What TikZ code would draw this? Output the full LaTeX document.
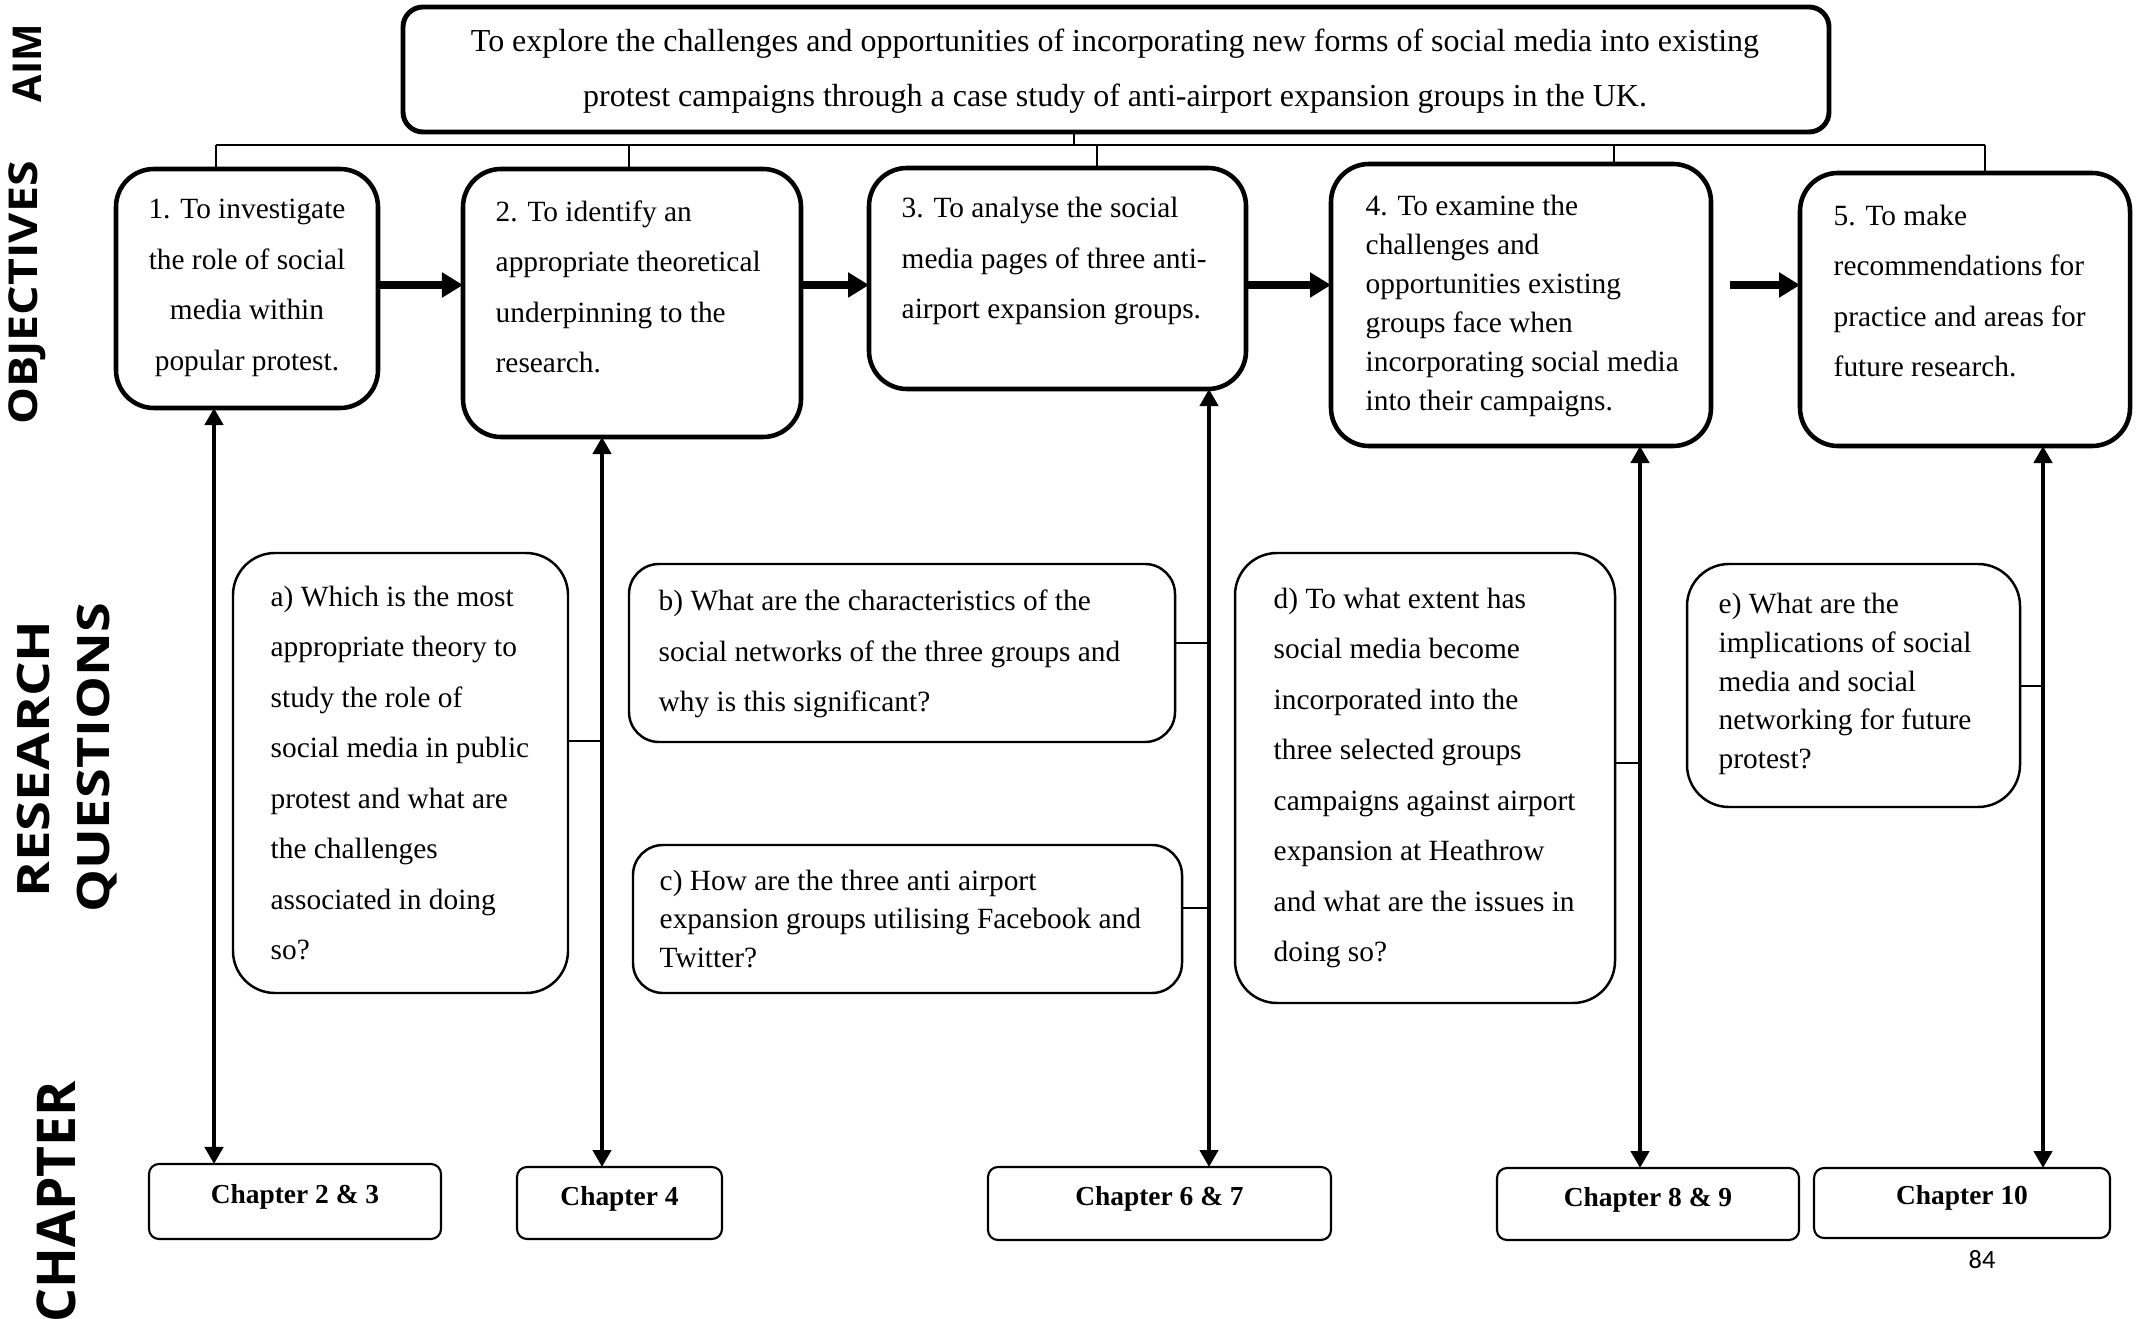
\documentclass[tikz,border=0pt]{standalone}
\usepackage{fontspec}
\setmainfont{Liberation Serif}
\newfontfamily\labfont{Open Sans}
\newfontfamily\pgnumfont{Carlito}
\usetikzlibrary{arrows.meta}
\begin{document}
\begin{tikzpicture}[x=0.01cm,y=-0.01cm,
 sz/.style 2 args={minimum width=#1*0.01cm, minimum height=#2*0.01cm, inner sep=0pt, outer sep=0pt},
 aimbox/.style={draw, line width=1.4pt, rounded corners=0.2cm},
 objbox/.style={draw, line width=1.3pt, rounded corners=0.38cm},
 rqbox/.style={draw, line width=0.7pt, rounded corners=0.42cm},
 rqsmall/.style={draw, line width=0.7pt, rounded corners=0.3cm},
 chapbox/.style={draw, line width=0.6pt, rounded corners=0.1cm},
 chaptext/.style={inner sep=0pt, font=\fontsize{7.8}{9}\selectfont\bfseries},
 body/.style={inner sep=0pt, align=left, font=\fontsize{8.35}{14.37}\selectfont},
 bodyc/.style={inner sep=0pt, align=center, font=\fontsize{8.35}{14.37}\selectfont},
 bodytight/.style={inner sep=0pt, align=left, font=\fontsize{8.35}{11.07}\selectfont},
 tree/.style={line width=0.45pt},
 bigarrow/.style={line width=0.08cm, -{Triangle[width=0.24cm,length=0.21cm]}},
 dblarrow/.style={line width=0.045cm, {Triangle[width=0.18cm,length=0.17cm]}-{Triangle[width=0.18cm,length=0.17cm]}},
 link/.style={line width=0.6pt},
 sidelab/.style={rotate=90, inner sep=0pt}
]
\useasboundingbox[fill=white] (0,0) rectangle (2140,1319);

% side labels
\node[sidelab, font=\labfont\bfseries\fontsize{11.3}{12}\selectfont] (lAim) at (27.5,63) {AIM};
\node[sidelab, font=\labfont\bfseries\fontsize{11.3}{12}\selectfont] (lObj) at (27.5,293) {\scalebox{1.17}[1]{OBJECTIVES}};
\node[sidelab, font=\labfont\bfseries\fontsize{12.7}{13}\selectfont] (lRes) at (34,759) {\scalebox{1.22}[1]{RESEARCH}};
\node[sidelab, font=\labfont\bfseries\fontsize{12.7}{13}\selectfont] (lQue) at (97,758) {\scalebox{1.21}[1]{QUESTIONS}};
\node[sidelab, font=\labfont\bfseries\fontsize{15.2}{16}\selectfont] (lCha) at (56,1202) {CHAPTER};

% aim
\node[aimbox, sz={1426}{125}] (aim) at (1116,69.5) {};
\node[bodyc, font=\fontsize{9.1}{15.7}\selectfont] (aimt) at (1115,71) {To explore the challenges and opportunities of incorporating new forms of social media into existing\\protest campaigns through a case study of anti-airport expansion groups in the UK.};

% objectives
\node[objbox, sz={262}{239}] (o1) at (247,288.5) {};
\node[objbox, sz={338}{268}] (o2) at (632,303) {};
\node[objbox, sz={377}{221}] (o3) at (1057.5,278.5) {};
\node[objbox, sz={380}{282}] (o4) at (1521,305) {};
\node[objbox, sz={330}{273}] (o5) at (1965,309.5) {};

\node[bodyc] (o1t) at (247,288) {1. To investigate\\the role of social\\media within\\popular protest.};
\node[body, anchor=west] (o2t) at (495,287) {2. To identify an\\appropriate theoretical\\underpinning to the\\research.};
\node[body, anchor=west] (o3t) at (901,261) {3. To analyse the social\\media pages of three anti-\\airport expansion groups.};
\node[bodytight, anchor=west] (o4t) at (1365,306) {4. To examine the\\challenges and\\opportunities existing\\groups face when\\incorporating social media\\into their campaigns.};
\node[body, anchor=west] (o5t) at (1833,291) {5. To make\\recommendations for\\practice and areas for\\future research.};

% research questions
\node[rqbox, sz={335}{440}] (qa) at (400.5,773) {};
\node[rqsmall, sz={546}{178}] (qb) at (902,653) {};
\node[rqsmall, sz={549}{148}] (qc) at (907.5,919) {};
\node[rqbox, sz={380}{450}] (qd) at (1425,778) {};
\node[rqbox, sz={333}{243}] (qe) at (1853.5,685.5) {};

\node[body, anchor=west] (qat) at (270,773) {a) Which is the most\\appropriate theory to\\study the role of\\social media in public\\protest and what are\\the challenges\\associated in doing\\so?};
\node[body, anchor=west] (qbt) at (658,654) {b) What are the characteristics of the\\social networks of the three groups and\\why is this significant?};
\node[bodytight, anchor=west] (qct) at (659,919) {c) How are the three anti airport\\expansion groups utilising Facebook and\\Twitter?};
\node[body, anchor=west] (qdt) at (1273,778) {d) To what extent has\\social media become\\incorporated into the\\three selected groups\\campaigns against airport\\expansion at Heathrow\\and what are the issues in\\doing so?};
\node[bodytight, anchor=west] (qet) at (1718,684) {e) What are the\\implications of social\\media and social\\networking for future\\protest?};

% chapters
\node[chapbox, sz={292}{75}] (c1) at (295,1201.5) {};
\node[chapbox, sz={205}{72}] (c2) at (619.5,1203) {};
\node[chapbox, sz={343}{73}] (c3) at (1159.5,1203.5) {};
\node[chapbox, sz={302}{72}] (c4) at (1648,1204) {};
\node[chapbox, sz={296}{70}] (c5) at (1962,1203) {};
\node[chaptext] (c1t) at (295,1197) {Chapter 2 \& 3};
\node[chaptext] (c2t) at (619.5,1199) {Chapter 4};
\node[chaptext] (c3t) at (1159.5,1199) {Chapter 6 \& 7};
\node[chaptext] (c4t) at (1648,1200) {Chapter 8 \& 9};
\node[chaptext] (c5t) at (1962,1198) {Chapter 10};

\node[inner sep=0pt, font=\pgnumfont\fontsize{7.5}{8}\selectfont] (pg) at (1982,1260) {84};

% tree connectors
\coordinate (tr) at (0,145);
\coordinate (d0) at (1074,0);
\coordinate (d1) at (216,0);
\coordinate (d2) at (629,0);
\coordinate (d3) at (1097,0);
\coordinate (d4) at (1614,0);
\coordinate (d5) at (1985,0);
\draw[tree] (d0 |- aim.south) -- (d0 |- tr);
\draw[tree] (d1 |- tr) -- (d5 |- tr);
\draw[tree] (d1 |- tr) -- (d1 |- o1.north);
\draw[tree] (d2 |- tr) -- (d2 |- o2.north);
\draw[tree] (d3 |- tr) -- (d3 |- o3.north);
\draw[tree] (d4 |- tr) -- (d4 |- o4.north);
\draw[tree] (d5 |- tr) -- (d5 |- o5.north);

% thick arrows between objectives
\coordinate (ar) at (0,285);
\draw[bigarrow] (o1.east |- ar) -- (o2.west |- ar);
\draw[bigarrow] (o2.east |- ar) -- (o3.west |- ar);
\draw[bigarrow] (o3.east |- ar) -- (o4.west |- ar);
\coordinate (a45) at (1730,285);
\draw[bigarrow] (a45) -- (o5.west |- ar);

% vertical double arrows
\coordinate (v1) at (214,0);
\coordinate (v2) at (602,0);
\coordinate (v3) at (1209,0);
\coordinate (v4) at (1640,0);
\coordinate (v5) at (2043,0);
\draw[dblarrow] (v1 |- o1.south) -- (v1 |- c1.north);
\draw[dblarrow] (v2 |- o2.south) -- (v2 |- c2.north);
\draw[dblarrow] (v3 |- o3.south) -- (v3 |- c3.north);
\draw[dblarrow] (v4 |- o4.south) -- (v4 |- c4.north);
\draw[dblarrow] (v5 |- o5.south) -- (v5 |- c5.north);

% question links
\coordinate (ya) at (0,741);
\coordinate (yb) at (0,643);
\coordinate (yc) at (0,908);
\coordinate (yd) at (0,763);
\coordinate (ye) at (0,686);
\draw[link] (qa.east |- ya) -- (v2 |- ya);
\draw[link] (qb.east |- yb) -- (v3 |- yb);
\draw[link] (qc.east |- yc) -- (v3 |- yc);
\draw[link] (qd.east |- yd) -- (v4 |- yd);
\draw[link] (qe.east |- ye) -- (v5 |- ye);
\end{tikzpicture}
\end{document}
